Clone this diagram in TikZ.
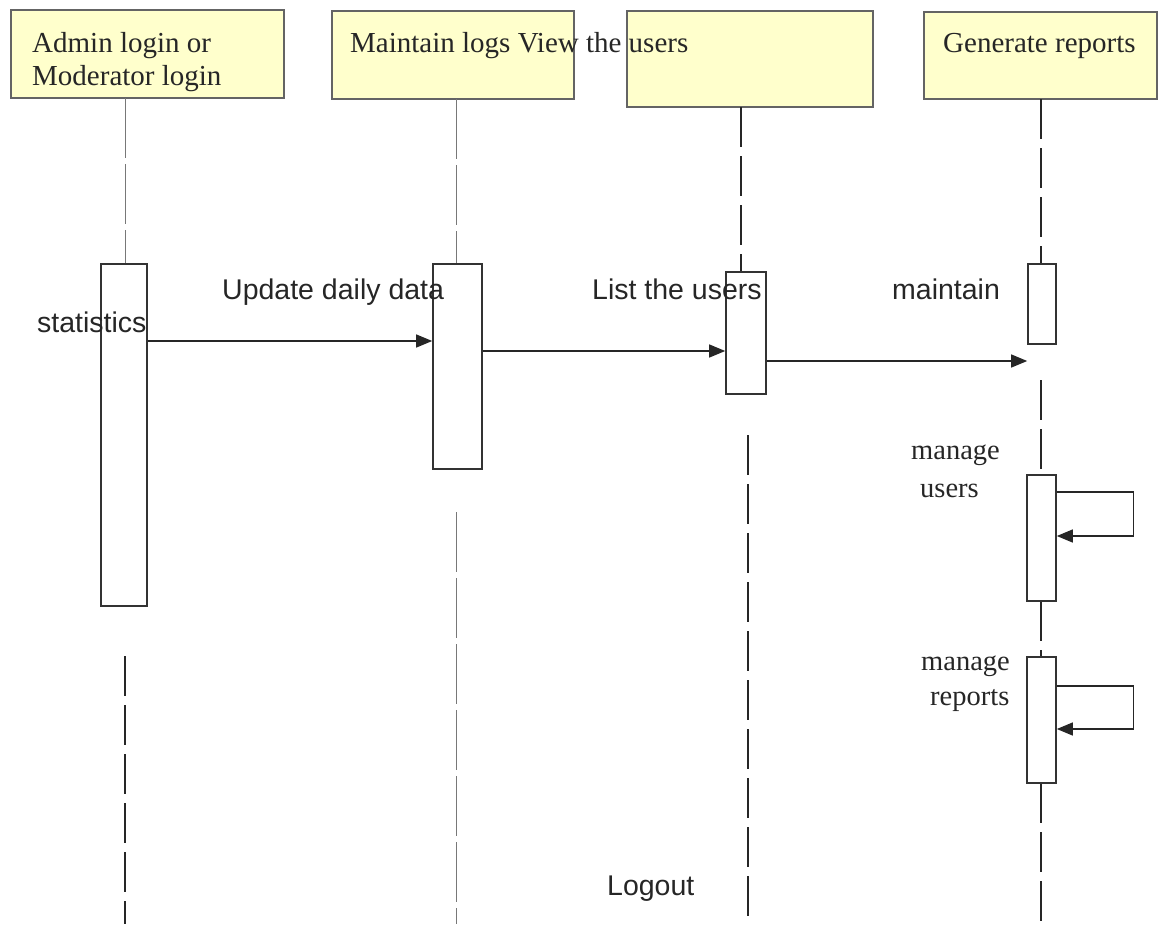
\documentclass[tikz,border=0pt]{standalone}
\usepackage{fontspec}
\setmainfont{Liberation Serif}
\newfontfamily\arialfont{Liberation Sans}
\usetikzlibrary{arrows.meta}

\definecolor{hdyellow}{RGB}{255,255,204}
\definecolor{hdborder}{RGB}{100,100,100}
\definecolor{lifegray}{RGB}{120,120,120}

\tikzset{
	hdbox/.style={draw=hdborder, fill=hdyellow, line width=1.2pt, inner sep=0pt},
	actbox/.style={draw=black!80, fill=white, line width=1.6pt, inner sep=0pt},
	msg/.style={-{Triangle[length=16pt,width=13pt]}, line width=1.3pt, black!85},
	life/.style={line width=1.3pt, black!85, dash pattern=on 40pt off 9pt},
	lifelight/.style={line width=0.9pt, lifegray, dash pattern=on 60pt off 6pt},
	serif/.style={font=\fontsize{28.5}{33}\selectfont, inner sep=0pt, text=black!85},
	hdserif/.style={font=\fontsize{29}{33}\selectfont, inner sep=0pt, text=black!85},
	sans/.style={font=\arialfont\fontsize{28.5}{33}\selectfont, inner sep=0pt, text=black!85}
}

\begin{document}
\begin{tikzpicture}[x=1pt,y=-1pt]
		\useasboundingbox (0,0) rectangle (1159,924);

		%header boxes
		\node[hdbox, minimum width=273, minimum height=88] (hd1) at (147.5,54) {};
		\node[hdbox, minimum width=242, minimum height=88] (hd2) at (453,55) {};
		\node[hdbox, minimum width=246, minimum height=96] (hd3) at (750,59) {};
		\node[hdbox, minimum width=233, minimum height=87] (hd4) at (1040.5,55.5) {};

		%header texts
		\node[hdserif, anchor=base west] (t1a) at (32,52) {Admin login or};
		\node[hdserif, anchor=base west] (t1b) at (32,85) {Moderator login};
		\node[hdserif, anchor=base west] (t2) at (350,52) {Maintain logs View the users};
		\node[hdserif, anchor=base west] (t4) at (943,52) {Generate reports};

		%lifelines
		\draw[lifelight] (125,98) -- (125,264);
		\draw[life] (125,656) -- (125,924);
		\draw[lifelight] (456,99) -- (456,264);
		\draw[lifelight] (456,512) -- (456,924);
		\draw[life] (741,107) -- (741,272);
		\draw[life] (748,435) -- (748,924);
		\draw[life] (1041,99) -- (1041,264);
		\draw[life] (1041,380) -- (1041,475);
		\draw[life] (1041,601) -- (1041,657);
		\draw[life] (1041,783) -- (1041,924);

		%activations
		\node[actbox, minimum width=46, minimum height=342] (act1) at (124,435) {};
		\node[actbox, minimum width=49, minimum height=205] (act2) at (457.5,366.5) {};
		\node[actbox, minimum width=40, minimum height=122] (act3) at (746,333) {};
		\node[actbox, minimum width=28, minimum height=80] (act4) at (1042,304) {};
		\node[actbox, minimum width=29, minimum height=126] (act5) at (1041.5,538) {};
		\node[actbox, minimum width=29, minimum height=126] (act6) at (1041.5,720) {};

		%messages
		\coordinate (m1) at (0,341);
		\coordinate (m2) at (0,351);
		\coordinate (m3) at (0,361);
		\draw[msg] (act1.east |- m1) -- (act2.west |- m1);
		\draw[msg] (act2.east |- m2) -- (act3.west |- m2);
		\draw[msg] (act3.east |- m3) -- (act4.west |- m3);

		%self calls
		\coordinate (s1a) at (0,492);
		\coordinate (s1b) at (0,536);
		\coordinate (s2a) at (0,686);
		\coordinate (s2b) at (0,729);
		\draw[msg] (act5.east |- s1a) -- ++(77,0) |- (act5.east |- s1b);
		\draw[msg] (act6.east |- s2a) -- ++(77,0) |- (act6.east |- s2b);

		%labels
		\node[sans, anchor=base west] (l1) at (37,332) {statistics};
		\node[sans, anchor=base west] (l2) at (222,299) {Update daily data};
		\node[sans, anchor=base west] (l3) at (592,299) {List the users};
		\node[sans, anchor=base west] (l4) at (892,299) {maintain};
		\node[serif, anchor=base west] (l5a) at (911,459) {manage};
		\node[serif, anchor=base west] (l5b) at (920,497) {users};
		\node[serif, anchor=base west] (l6a) at (921,670) {manage};
		\node[serif, anchor=base west] (l6b) at (930,705) {reports};
		\node[sans, anchor=base west] (l7) at (607,895) {Logout};

		\end{tikzpicture}
\end{document}
